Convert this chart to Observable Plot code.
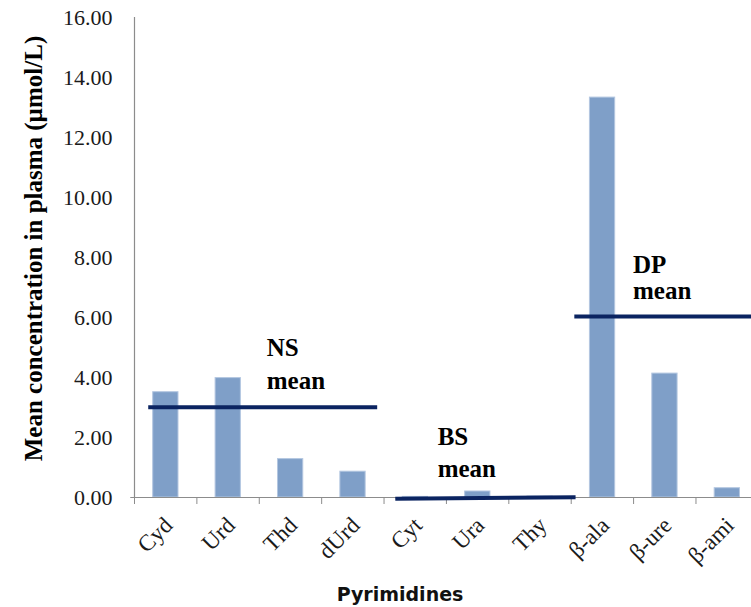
<!DOCTYPE html>
<html>
<head>
<meta charset="utf-8">
<script src="https://cdn.jsdelivr.net/npm/d3@7"></script>
<script src="https://cdn.jsdelivr.net/npm/@observablehq/plot@0.6"></script>
<style>
  html, body { margin: 0; padding: 0; background: #fff; }
  #chart { width: 751px; height: 607px; overflow: hidden; }
</style>
</head>
<body>
<div id="chart"></div>
<script>
const categories = ["Cyd", "Urd", "Thd", "dUrd", "Cyt", "Ura", "Thy", "β-ala", "β-ure", "β-ami"];
const values = [3.51, 3.98, 1.28, 0.86, 0.02, 0.2, 0.03, 13.33, 4.13, 0.31];
const meanGroups = ["NS", "BS", "DP"];
const meanValuesLeft = [3.01, -0.04, 6.03];
const meanValuesRight = [3.01, 0.01, 6.03];
const meanStart = [0.22, 4.18, 7.05];
const meanEnd = [3.89, 7.07, 9.89];
const yTicks = [0, 2, 4, 6, 8, 10, 12, 14, 16];
const yTitle = "Mean concentration in plasma (µmol/L)";
const xTitle = "Pyrimidines";

const bars = categories.map((c, i) => ({i, c, v: values[i]}));
const means = meanGroups.map((g, i) => ({g, y1: meanValuesLeft[i], y2: meanValuesRight[i], start: meanStart[i], end: meanEnd[i]}));
// annotation label positions (x in category units, y in value units)
const notes = [
  {t: "NS", x: 2.12, y: 4.72}, {t: "mean", x: 2.12, y: 3.62},
  {t: "BS", x: 4.86, y: 1.76}, {t: "mean", x: 4.86, y: 0.69},
  {t: "DP", x: 7.99, y: 7.47}, {t: "mean", x: 7.99, y: 6.62}
];

const serif = "'Liberation Serif', 'Times New Roman', serif";
const navy = "#0b2461";
const grey = "#8c8c8c";

const chart = Plot.plot({
  width: 751,
  height: 607,
  marginLeft: 134,
  marginRight: 0,
  marginTop: 17,
  marginBottom: 110,
  style: {fontFamily: serif, background: "#fff", overflow: "visible"},
  x: {domain: [0, 9.89], axis: null},
  y: {domain: [0, 16], axis: null},
  marks: [
    Plot.rectY(bars, {x1: d => d.i + 0.3, x2: d => d.i + 0.705, y: "v", fill: "#7f9fc8", stroke: "#b3c6e0", strokeWidth: 1}),
    Plot.ruleX([0], {y1: 0, y2: 16, stroke: grey, strokeWidth: 1.2}),
    Plot.ruleY([0], {x1: -0.06, x2: 9.89, stroke: grey, strokeWidth: 1.2}),
    Plot.axisY({ticks: yTicks, tickFormat: d => d.toFixed(2), tickSize: 0, tickPadding: 22, fontSize: 22, fill: "#1a1a1a", label: null}),
    Plot.axisX({ticks: d3.range(0, 10), tickSize: 7, tickFormat: () => "", stroke: grey, label: null}),
    Plot.axisX({ticks: d3.range(0, 10).map(i => i + 0.5), tickSize: 0, tickPadding: 24, dx: 3, tickRotate: -45, fontSize: 23, fill: "#1a1a1a", tickFormat: d => categories[Math.round(d - 0.5)], label: null}),
    Plot.link(means, {x1: "start", x2: "end", y1: "y1", y2: "y2", stroke: navy, strokeWidth: 4}),
    Plot.text(notes, {x: "x", y: "y", text: "t", textAnchor: "start", lineAnchor: "bottom", fontSize: 25, fontWeight: "bold", fill: "#000"}),
    Plot.text([yTitle], {frameAnchor: "left", textAnchor: "middle", rotate: -90, dx: -101, dy: -9, fontSize: 25, fontWeight: "bold", fill: "#000"}),
    Plot.text([xTitle], {frameAnchor: "bottom", textAnchor: "middle", lineAnchor: "bottom", dx: -43, dy: 103, fontSize: 19, fontWeight: 600, fontFamily: "'DejaVu Sans', sans-serif", fill: "#111"})
  ]
});
document.getElementById("chart").appendChild(chart);
</script>
</body>
</html>
